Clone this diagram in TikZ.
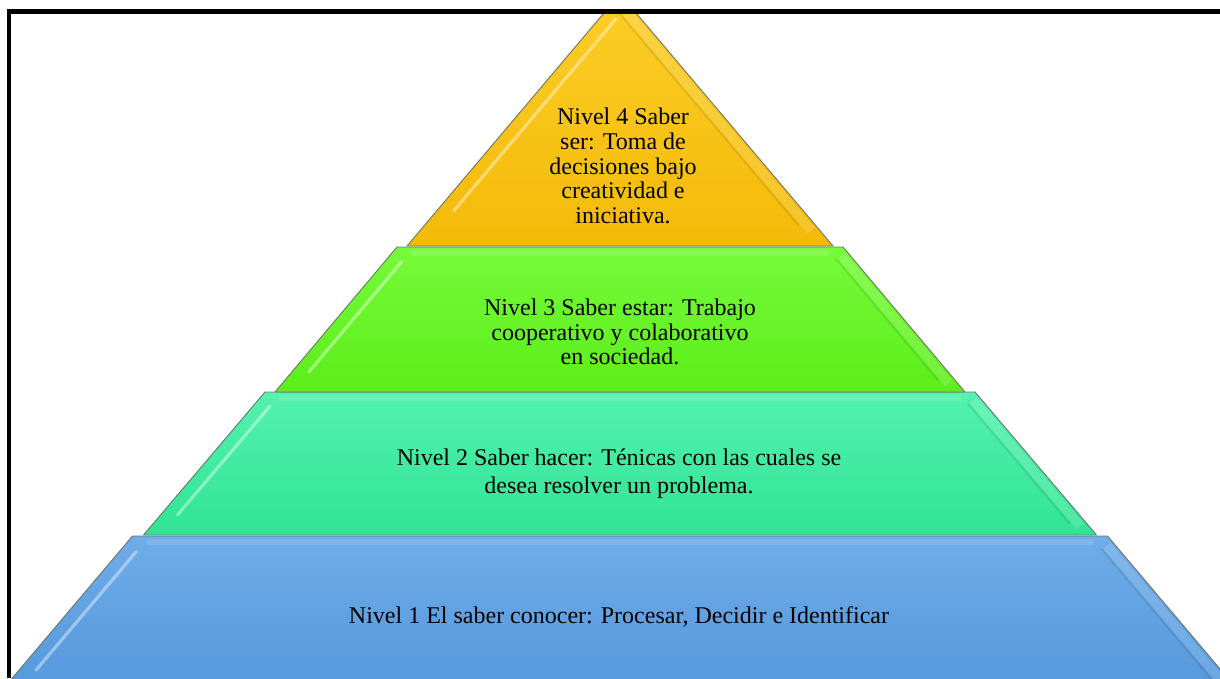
\documentclass[tikz,border=0pt]{standalone}
\usepackage{fontspec}
\setmainfont{Liberation Serif}
\usetikzlibrary{calc}

\definecolor{yelTop}{RGB}{252,206,40}
\definecolor{yelBot}{RGB}{244,186,8}
\definecolor{grnTop}{RGB}{118,250,58}
\definecolor{grnBot}{RGB}{92,238,26}
\definecolor{tealTop}{RGB}{84,242,174}
\definecolor{tealBot}{RGB}{48,228,148}
\definecolor{bluTop}{RGB}{112,172,232}
\definecolor{bluBot}{RGB}{84,152,220}
\definecolor{edgeGray}{RGB}{110,120,110}

% one band of the pyramid: top y, top half-width, bottom y, bottom half-width, colours
\newcommand{\pyrband}[6]{%
  \coordinate (TL) at ({620-#2},#1);
  \coordinate (TR) at ({620+#2},#1);
  \coordinate (BR) at ({620+#4},#3);
  \coordinate (BL) at ({620-#4},#3);
  \shade[top color=#5, bottom color=#6] (TL) -- (TR) -- (BR) -- (BL) -- cycle;
  % bevel: light ridge inside the left edge
  \draw[white, opacity=0.40, line width=2.4pt, line cap=round]
    ($(TL)!0.10!(BL)+(17,0)$) -- ($(TL)!0.86!(BL)+(17,0)$);
  % bevel: light band and faint crease inside the right edge
  \draw[white, opacity=0.14, line width=7pt]
    ($(TR)!0.06!(BR)+(-9,0)$) -- ($(TR)!0.94!(BR)+(-9,0)$);
  \draw[black, opacity=0.09, line width=1.5pt]
    ($(TR)!0.08!(BR)+(-17,0)$) -- ($(TR)!0.92!(BR)+(-17,0)$);
  % soft highlight under the top edge
  \draw[white, opacity=0.12, line width=4pt]
    ($(TL)+(14,6)$) -- ($(TR)+(-14,6)$);
  \draw[edgeGray, line width=0.7pt, line join=round] (TL) -- (TR) -- (BR) -- (BL) -- cycle;
}

\begin{document}
\begin{tikzpicture}[x=0.75pt,y=-0.75pt,
  levelText/.style={font=\fontsize{18}{18.5}\selectfont, align=center, text=black, inner sep=0pt},
  frameLine/.style={black, line width=3.4pt}]
\useasboundingbox (0,0) rectangle (1220,678);

\begin{scope}
  \clip (0,11) rectangle (1220,678);
  % base: Nivel 1
  \pyrband{536}{487.5}{692}{619.5}{bluTop}{bluBot}
  % Nivel 2
  \pyrband{392}{355}{535}{476.5}{tealTop}{tealBot}
  % Nivel 3
  \pyrband{247}{223}{392}{345}{grnTop}{grnBot}
  % Nivel 4 (apex)
  \pyrband{-6}{0}{246}{213}{yelTop}{yelBot}
\end{scope}

% level labels
\node[levelText] (n4) at (623,166)
  {Nivel 4 Saber\\ser: Toma de\\decisiones bajo\\creatividad e\\iniciativa.};
\node[levelText] (n3) at (620,332)
  {Nivel 3 Saber estar: Trabajo\\cooperativo y colaborativo\\en sociedad.};
\node[levelText, font=\fontsize{18}{21}\selectfont] (n2) at (619,474)
  {Nivel 2 Saber hacer: Ténicas con las cuales se\\desea resolver un problema.};
\node[levelText] (n1) at (619,617)
  {Nivel 1 El saber conocer: Procesar, Decidir e Identificar};

% frame lines along the top and left
\draw[frameLine] (9,678) -- (9,11.5) -- (1220,11.5);
\end{tikzpicture}
\end{document}
